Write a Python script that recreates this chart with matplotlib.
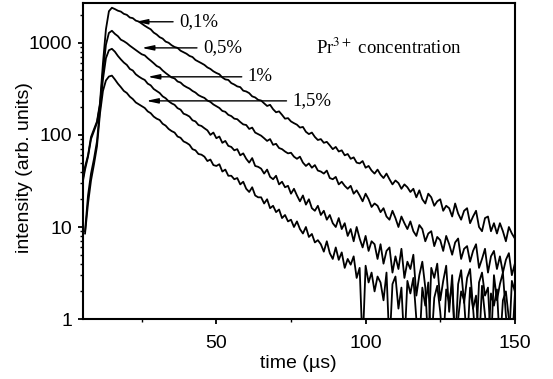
import numpy as np
import matplotlib.pyplot as plt
from matplotlib.ticker import LogLocator, NullFormatter, MultipleLocator

# sampling grid of the decay traces (us)
time = np.arange(5, 151, 1)

conc_labels = ['0,1%', '0,5%', '1%', '1,5%']

int_01 = [30, 45, 60, 95, 115, 140, 220, 600, 1400, 2200,
          2400, 2320, 2230, 2180, 2060, 2010, 1880, 1850, 1740, 1700,
          1610, 1530, 1460, 1400, 1290, 1230, 1150, 1110, 1030, 1000,
          940, 900, 880, 820, 790, 760, 720, 700, 650, 625,
          600, 575, 540, 520, 490, 470, 455, 420, 400, 395,
          365, 352, 336, 330, 302, 296, 284, 262, 255, 240,
          236, 220, 206, 212, 190, 176, 180, 165, 150, 152,
          140, 134, 129, 120, 122, 108, 102, 106, 95, 88,
          90, 82, 84, 77, 70, 74, 66, 68, 60, 62,
          55, 57, 50, 49, 52, 44, 46, 41, 38, 42,
          37, 34, 38, 33, 29, 32, 30, 26, 29, 27,
          24, 26, 21, 25, 20, 18, 23, 21, 17, 19,
          20, 15, 17, 16, 13, 18, 14, 12, 15, 16,
          11, 13, 15, 10, 9, 12.5, 13, 9, 11, 8.5,
          11, 9, 7, 10, 8.5, 7.5]

int_05 = [28, 42, 58, 90, 110, 135, 210, 480, 950, 1280,
          1350, 1250, 1180, 1080, 1040, 990, 930, 880, 830, 790,
          750, 730, 680, 640, 600, 560, 540, 500, 470, 445,
          420, 410, 380, 370, 345, 330, 318, 300, 288, 270,
          260, 252, 236, 228, 214, 205, 196, 182, 178, 165,
          160, 150, 148, 138, 130, 128, 116, 120, 106, 102,
          98, 92, 86, 90, 78, 80, 72, 70, 66, 63,
          64, 58, 55, 58, 50, 46, 49, 44, 47, 41,
          40, 38, 41, 34, 33, 35, 29, 31, 28, 26,
          28, 23, 25, 22, 19, 23, 20, 16.5, 18, 17,
          14.5, 16, 13, 12, 15, 12.5, 10, 13, 11, 9.5,
          11.5, 9, 8, 10.5, 9.5, 7, 8.5, 9, 6.2, 7.8,
          7.2, 5.5, 8, 6.5, 5, 6.8, 7.5, 4.5, 5.8, 6.2,
          4.2, 5.5, 6.5, 3.6, 4.5, 5.8, 3.2, 4.8, 5.5, 3.5,
          4.8, 3.2, 4.4, 5.2, 3, 4]

int_1 = [np.nan, 9, 22, 38, 55, 85, 190, 400, 680, 830,
         860, 800, 720, 660, 610, 575, 520, 500, 455, 430,
         410, 395, 360, 345, 315, 300, 285, 262, 250, 232,
         220, 212, 195, 188, 170, 165, 158, 144, 140, 128,
         125, 118, 112, 100, 106, 92, 96, 82, 86, 76,
         74, 68, 70, 60, 63, 55, 50, 56, 46, 45,
         43, 38, 42, 35, 33, 36, 29, 31, 27, 28,
         23, 26, 22, 19, 22, 17.5, 20, 16, 15, 17,
         13.5, 15, 12, 13.5, 11, 10, 12.5, 9.5, 11, 8,
         9.5, 7, 10, 7.5, 6, 8, 5.5, 7, 6.5, 4.5,
         6.5, 4, 5.5, 6, 3.2, 4.8, 3.5, 5.8, 2.8, 4.2,
         3.5, 5, 1.8, 3, 4.2, 2.2, 0.5, 3.6, 2.8, 4,
         1.6, 2.6, 3.8, 1.2, 3, 0.5, 2.4, 3.4, 1.5, 2.8,
         3.5, 1.3, 0.5, 2.5, 3.2, 1.8, 2.2, 0.5, 3, 1.6,
         2.4, 3.2, 1.1, 0.5, 2.6, 2]

int_15 = [np.nan, 8.5, 18, 32, 48, 75, 170, 300, 390, 430,
          440, 400, 360, 330, 300, 285, 260, 245, 225, 215,
          205, 196, 180, 172, 158, 150, 145, 132, 126, 116,
          110, 106, 96, 93, 85, 82, 78, 70, 68, 62,
          61, 58, 52, 54, 47, 46, 48, 40, 42, 36,
          36, 33, 34, 29, 31, 26, 24, 27, 22, 21,
          21, 18, 20, 16, 17, 14.5, 15.5, 12.5, 13.5, 11.5,
          12, 10, 11.5, 9.5, 8.5, 10, 7.8, 8.4, 6.8, 7.2,
          6.5, 5.4, 7, 5.2, 4.5, 6, 4.4, 5.3, 3.6, 4.5,
          3.9, 4.8, 2.8, 3.6, 0.5, 3.8, 2.5, 3.2, 2, 2.9,
          2.5, 1.6, 3.2, 0.5, 2.4, 2.9, 1.3, 2.2, 0.5, 2.6,
          1.9, 2.8, 1, 0.5, 2.2, 1.4, 2.5, 0.5, 1.7, 2.3,
          1.2, 0.5, 2.1, 1.5, 2.4, 0.5, 1, 2, 1.6, 0.5,
          2.2, 1.3, 1.8, 0.5, 2.3, 1.1, 0.5, 1.9, 1.4, 2.1,
          0.5, 1.6, 2, 1, 0.5, 1.8]

# arrow tip (time, intensity), arrow tail time
arrow_tip_t = [23, 25, 27, 26.5]
arrow_y = [1690, 880, 427, 234]
arrow_tail_t = [35.5, 43.5, 58.5, 73.5]

plt.rcParams['font.family'] = 'Liberation Sans'
plt.rcParams['mathtext.fontset'] = 'stix'

fig = plt.figure(figsize=(5.53, 3.79), dpi=100)
ax = fig.add_axes([0.150, 0.158, 0.781, 0.834])

for series in [int_01, int_05, int_1, int_15]:
    ax.plot(time, series, color='black', linewidth=1.3)

ax.set_yscale('log')
ax.set_xlim(5.3, 150)
ax.set_ylim(1, 2700)

ax.xaxis.set_major_locator(MultipleLocator(50))
ax.xaxis.set_minor_locator(MultipleLocator(25))
ax.yaxis.set_minor_locator(LogLocator(base=10, subs=np.arange(2, 10)))
ax.yaxis.set_minor_formatter(NullFormatter())
ax.set_yticks([1, 10, 100, 1000])
ax.set_yticklabels(['1', '10', '100', '1000'])

ax.tick_params(which='major', direction='out', length=3.8, width=1.3, labelsize=14)
ax.tick_params(which='minor', direction='out', length=2.3, width=1.0)
ax.tick_params(axis='x', which='major', pad=7.5)
ax.tick_params(axis='y', which='major', pad=4)
for sp in ax.spines.values():
    sp.set_linewidth(1.5)

ax.set_xlabel('time (\u00b5s)', fontsize=14)
ax.set_ylabel('intensity (arb. units)', fontsize=14)
ax.xaxis.set_label_coords(0.498, -0.113)
ax.yaxis.set_label_coords(-0.116, 0.48)

for lab, tip, tail, yv in zip(conc_labels, arrow_tip_t, arrow_tail_t, arrow_y):
    ax.annotate('', xy=(tip, yv), xytext=(tail, yv),
                arrowprops=dict(arrowstyle='-|>,head_length=0.7,head_width=0.15',
                                color='black', lw=1.0, shrinkA=0, shrinkB=0))
    ax.text(tail + 2, yv, lab, fontsize=13.5, family='Liberation Serif',
            va='center', ha='left')

ax.text(83.5, 880, 'Pr$^{3+}$ concentration', fontsize=13.5,
        family='Liberation Serif', va='center', ha='left')

fig.savefig('out.png', dpi=100)
